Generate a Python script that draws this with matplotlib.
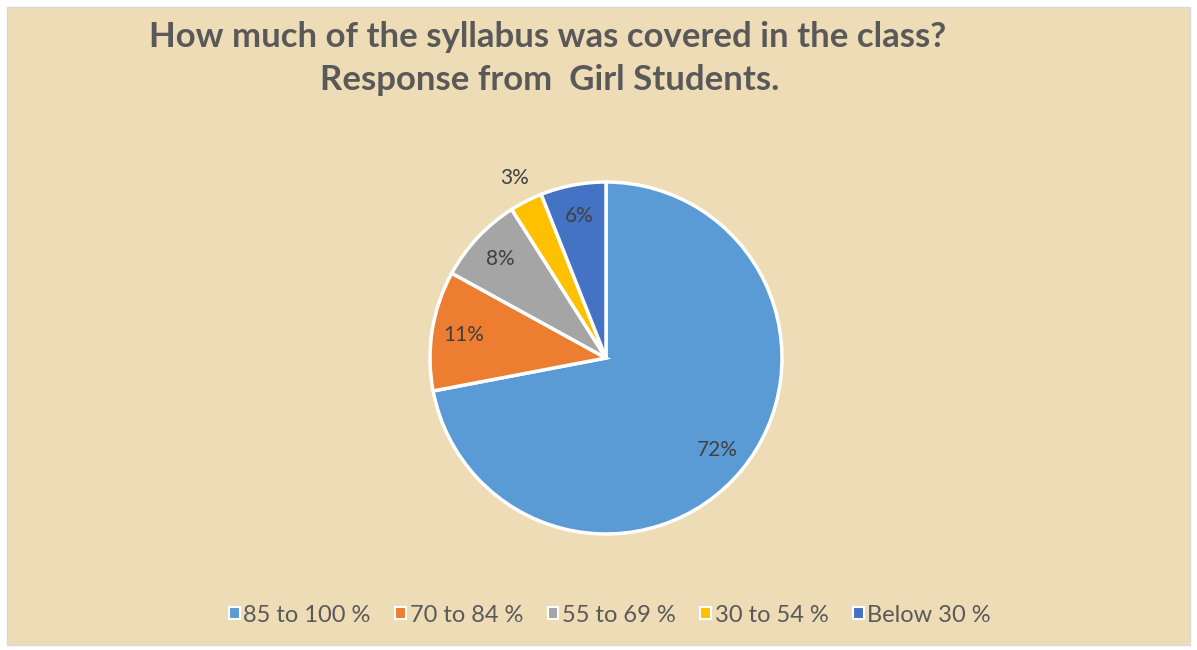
import matplotlib
matplotlib.use("Agg")
import matplotlib.pyplot as plt
import numpy as np
from matplotlib.patches import Rectangle

categories = ["85 to 100 %", "70 to 84 %", "55 to 69 %", "30 to 54 %", "Below 30 %"]
values = [72, 11, 8, 3, 6]
colors = ["#5B9BD5", "#ED7D31", "#A5A5A5", "#FFC000", "#4472C4"]
title_lines = ["How much of the syllabus was covered in the class?", "Response from  Girl Students."]

W, H = 1197, 650
fig = plt.figure(figsize=(W / 100, H / 100), dpi=100)
fig.patch.set_facecolor("white")

# background panel
bg = Rectangle((7 / W, 5 / H), (W - 14) / W, (H - 12) / H,
               transform=fig.transFigure, facecolor="#EDDCB6",
               edgecolor="#D9D9D9", linewidth=1.0, zorder=-10)
fig.patches.append(bg)

cx, cy, r = 606, 358, 176
ax = fig.add_axes([(cx - r) / W, (H - cy - r) / H, 2 * r / W, 2 * r / H], zorder=5)
ax.patch.set_alpha(0)

wedges, texts, autotexts = ax.pie(
    values, colors=colors, startangle=90, counterclock=False, radius=1,
    autopct=lambda p: f"{p:.0f}%", pctdistance=0.82,
    wedgeprops=dict(edgecolor="white", linewidth=2.5),
    textprops=dict(color="#404040", fontsize=15, family="Lato"))
ax.set_xlim(-1, 1)
ax.set_ylim(-1, 1)
ax.set_aspect("equal")
ax.axis("off")

# move the small slice label outside
for w, t, v in zip(wedges, autotexts, values):
    if v < 5:
        ang = np.deg2rad((w.theta1 + w.theta2) / 2)
        t.set_position((1.15 * np.cos(ang), 1.15 * np.sin(ang)))
    t.set_clip_on(False)
for w in wedges:
    w.set_clip_on(False)

fig.text(548 / W, 1 - 37 / H, title_lines[0], ha="center", va="center",
         fontsize=25, fontweight="bold", color="#595959", family="Lato")
fig.text(550 / W, 1 - 80 / H, title_lines[1], ha="center", va="center",
         fontsize=25, fontweight="bold", color="#595959", family="Lato")

handles = [Rectangle((0, 0), 1, 1, facecolor=c, edgecolor="white", linewidth=1.5) for c in colors]
leg = fig.legend(handles, categories, loc="center", bbox_to_anchor=(610 / W, 1 - 615 / H),
                 ncol=5, frameon=False, handlelength=0.45, handleheight=0.45,
                 handletextpad=0.15, columnspacing=1.05,
                 prop=dict(family="Lato", size=17))
for t in leg.get_texts():
    t.set_color("#595959")

fig.savefig("out.png", dpi=100, facecolor=fig.get_facecolor())
